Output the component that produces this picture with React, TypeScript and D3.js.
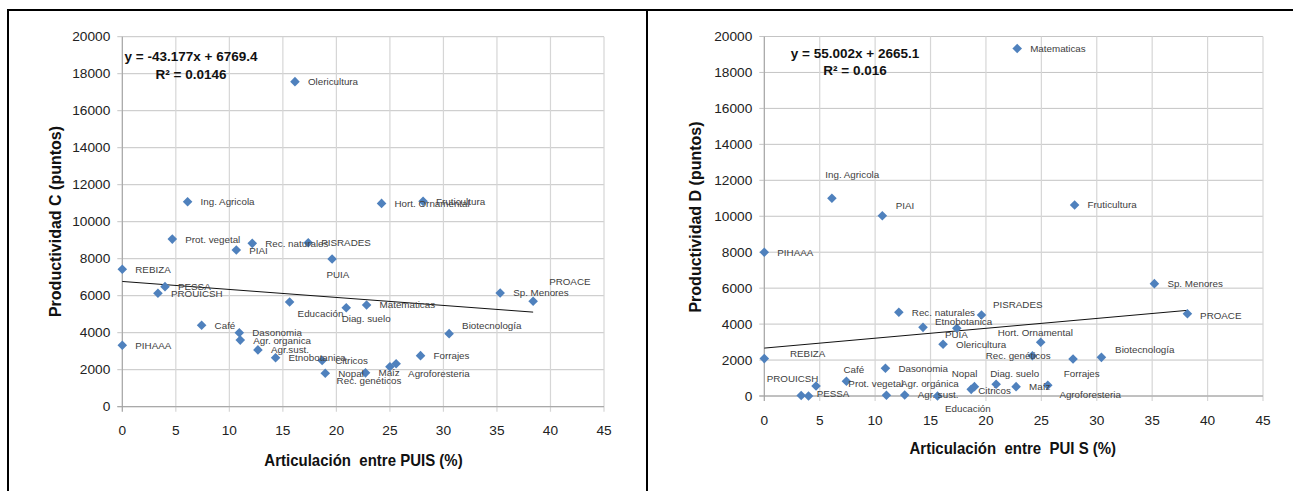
import React from 'react';
import * as d3 from 'd3';

// ---------- data ----------
const xTicks = [0, 5, 10, 15, 20, 25, 30, 35, 40, 45];
const yTicks = [0, 2000, 4000, 6000, 8000, 10000, 12000, 14000, 16000, 18000, 20000];

// Chart C: Productividad C vs Articulación entre PUIS
const namesC = [
  'Olericultura', 'Ing. Agricola', 'Hort. Ornamental', 'Fruticultura', 'Prot. vegetal',
  'PIAI', 'Rec. naturales', 'PISRADES', 'PUIA', 'REBIZA',
  'PESSA', 'PROUICSH', 'Educación', 'Diag. suelo', 'Matematicas',
  'Sp. Menores', 'PROACE', 'Café', 'Dasonomia', 'Agr. organica',
  'Agr.sust.', 'Etnobotanica', 'PIHAAA', 'Citricos', 'Nopal',
  'Maíz', 'Rec. genéticos', 'Agroforesteria', 'Forrajes', 'Biotecnología',
];
const artC = [
  16.13, 6.1, 24.22, 28.1, 4.67,
  10.65, 12.14, 17.37, 19.6, 0,
  3.99, 3.33, 15.63, 20.92, 22.82,
  35.3, 38.38, 7.41, 10.93, 11.02,
  12.67, 14.32, 0, 18.67, 18.96,
  22.72, 25.0, 25.58, 27.86, 30.53,
];
const prodC = [
  17570, 11080, 10990, 11100, 9060,
  8470, 8830, 8860, 7980, 7430,
  6490, 6130, 5660, 5350, 5500,
  6150, 5700, 4400, 4000, 3600,
  3070, 2650, 3320, 2500, 1810,
  1830, 2160, 2320, 2760, 3950,
];
const trendC = [-43.177, 6769.4];
const eqC = ['y = -43.177x + 6769.4', 'R² = 0.0146'];

// Chart D: Productividad D vs Articulación entre PUI S
const namesD = [
  'Matematicas', 'Ing. Agricola', 'PIAI', 'PIHAAA', 'Fruticultura',
  'Sp. Menores', 'PROACE', 'PISRADES', 'Rec. naturales', 'Etnobotanica',
  'PUIA', 'Olericultura', 'Hort. Ornamental', 'Rec. genéticos', 'Forrajes',
  'Biotecnología', 'REBIZA', 'Dasonomia', 'Café', 'PROUICSH',
  'Prot. vegetal', 'PESSA', 'Agr. orgánica', 'Agr. sust.', 'Educación',
  'Citricos', 'Nopal', 'Diag. suelo', 'Maíz', 'Agroforesteria',
];
const artD = [
  22.82, 6.1, 10.65, 0, 28.0,
  35.2, 38.18, 19.6, 12.14, 14.32,
  17.37, 16.13, 24.94, 24.19, 27.86,
  30.42, 0, 10.93, 7.41, 3.33,
  4.67, 3.99, 11.02, 12.67, 15.63,
  18.67, 18.96, 20.92, 22.72, 25.58,
];
const prodD = [
  19330, 11000, 10030, 8000, 10630,
  6250, 4580, 4510, 4660, 3820,
  3770, 2880, 2990, 2240, 2060,
  2150, 2080, 1540, 820, 30,
  560, 0, 40, 60, 0,
  370, 520, 650, 520, 600,
];
const trendD = [55.002, 2665.1];
const eqD = ['y = 55.002x + 2665.1', 'R² = 0.016'];

// ---------- layout (label offsets in px, relative to marker) ----------
const DEF: [number, number] = [13, 0];
const labelOffC: Record<string, [number, number]> = {
  PUIA: [-5.6, 15.3],
  'Educación': [8, 12],
  'Diag. suelo': [-4.6, 10.6],
  PROACE: [16, -19.3],
  'Rec. genéticos': [-53.3, 13.3],
  Agroforesteria: [12, 9.6],
  'Biotecnología': [13, -8.4],
};
const labelOffD: Record<string, [number, number]> = {
  'Ing. Agricola': [-6.6, -24],
  PIAI: [13.4, -10],
  PROACE: [12.7, 2],
  PISRADES: [11.4, -10],
  Etnobotanica: [12, -5.6],
  PUIA: [-11.8, 6.4],
  'Hort. Ornamental': [-43, -10],
  'Rec. genéticos': [-46.6, -0.7],
  Forrajes: [-9.3, 15],
  'Biotecnología': [13.7, -8.3],
  REBIZA: [25.7, -4.7],
  'Café': [-3, -11.3],
  PROUICSH: [-34.5, -17],
  'Prot. vegetal': [32.3, -2],
  PESSA: [8.2, -2.7],
  'Agr. orgánica': [14.6, -11.3],
  'Educación': [7.5, 12.3],
  Citricos: [7, 1.4],
  Nopal: [-22.7, -13.4],
  'Diag. suelo': [-6, -11],
  Agroforesteria: [11.6, 9.7],
};

const FONT = '"Liberation Sans", Arial, sans-serif';
const BLUE = '#4F81BD';

type ChartProps = {
  names: string[];
  xs: number[];
  ys: number[];
  trend: number[];
  eq: string[];
  offs: Record<string, [number, number]>;
  x0: number; x1: number; yb: number; yt: number;
  eqX: number; eqY: number;
  yTitle: string; yTitleX: number; yTitleY: number;
  xTitle: string; xTitleX: number; xTitleY: number;
};

function Chart(p: ChartProps) {
  const x = d3.scaleLinear().domain([0, 45]).range([p.x0, p.x1]);
  const y = d3.scaleLinear().domain([0, 20000]).range([p.yb, p.yt]);
  const diamond = d3.symbol().type(d3.symbolSquare).size(46)() as string;
  const xmin = d3.min(p.xs) as number;
  const xmax = d3.max(p.xs) as number;
  const line = d3.line<number>().x((v) => x(v)).y((v) => y(p.trend[0] * v + p.trend[1]));
  return (
    <g>
      {yTicks.map((t) => (
        <line key={'h' + t} x1={p.x0 - 5} x2={p.x1} y1={y(t)} y2={y(t)} stroke="#c4c4c4" strokeWidth={1} />
      ))}
      {xTicks.map((t) => (
        <line key={'v' + t} x1={x(t)} x2={x(t)} y1={p.yt} y2={p.yb + 5} stroke="#d6d6d6" strokeWidth={1.2} />
      ))}
      <line x1={p.x0} x2={p.x0} y1={p.yt} y2={p.yb + 5} stroke="#a0a0a0" strokeWidth={1} />
      <line x1={p.x0 - 5} x2={p.x1} y1={p.yb} y2={p.yb} stroke="#a0a0a0" strokeWidth={1} />
      {yTicks.map((t) => (
        <text key={'yl' + t} x={p.x0 - 12} y={y(t)} textAnchor="end" dominantBaseline="central"
          fontSize={13.7} fontFamily={FONT} fill="#222">{t}</text>
      ))}
      {xTicks.map((t) => (
        <text key={'xl' + t} x={x(t)} y={p.yb + 24} textAnchor="middle" dominantBaseline="central"
          fontSize={13.7} fontFamily={FONT} fill="#222">{t}</text>
      ))}
      <path d={line([xmin, xmax]) as string} fill="none" stroke="#111" strokeWidth={1} />
      {p.xs.map((v, i) => (
        <path key={'m' + i} d={diamond} transform={`translate(${x(v)},${y(p.ys[i])}) rotate(45)`} fill={BLUE} />
      ))}
      {p.names.map((n, i) => {
        const o = p.offs[n] || DEF;
        return (
          <text key={'l' + i} x={x(p.xs[i]) + o[0]} y={y(p.ys[i]) + o[1]} dominantBaseline="central"
            fontSize={9.8} fontFamily={FONT} fill="#404040">{n}</text>
        );
      })}
      <text x={p.eqX} y={p.eqY} textAnchor="middle" dominantBaseline="central" fontSize={13.5}
        fontWeight="bold" fontFamily={FONT} fill="#111">{p.eq[0]}</text>
      <text x={p.eqX} y={p.eqY + 17.5} textAnchor="middle" dominantBaseline="central" fontSize={13.5}
        fontWeight="bold" fontFamily={FONT} fill="#111">{p.eq[1]}</text>
      <text transform={`translate(${p.yTitleX},${p.yTitleY}) rotate(-90)`} textAnchor="middle"
        dominantBaseline="central" fontSize={16} fontWeight="bold" fontFamily={FONT} fill="#111">{p.yTitle}</text>
      <text transform={`translate(${p.xTitleX},${p.xTitleY}) scale(1,1.15)`} textAnchor="middle"
        fontSize={15} fontWeight="bold" fontFamily={FONT} fill="#111" style={{ whiteSpace: 'pre' }}>{p.xTitle}</text>
    </g>
  );
}

export default function App() {
  return (
    <svg width={1293} height={491} style={{ position: 'absolute', left: 0, top: 0, background: '#fff' }}>
      <rect x={0} y={0} width={1293} height={491} fill="#fff" />
      <Chart names={namesC} xs={artC} ys={prodC} trend={trendC} eq={eqC} offs={labelOffC}
        x0={122.3} x1={604} yb={406.7} yt={36.7} eqX={191} eqY={56.7}
        yTitle="Productividad C (puntos)" yTitleX={55} yTitleY={221.5}
        xTitle="Articulación  entre PUIS (%)" xTitleX={363.5} xTitleY={466} />
      <Chart names={namesD} xs={artD} ys={prodD} trend={trendD} eq={eqD} offs={labelOffD}
        x0={764.3} x1={1263} yb={396} yt={36.5} eqX={855} eqY={53.3}
        yTitle="Productividad D (puntos)" yTitleX={695} yTitleY={217}
        xTitle="Articulación  entre  PUI S (%)" xTitleX={1012.8} xTitleY={454} />
      <line x1={7} x2={1293} y1={10} y2={10} stroke="#000" strokeWidth={2} />
      <line x1={8} x2={8} y1={9} y2={491} stroke="#000" strokeWidth={2} />
      <line x1={647} x2={647} y1={9} y2={491} stroke="#000" strokeWidth={2} />
    </svg>
  );
}
